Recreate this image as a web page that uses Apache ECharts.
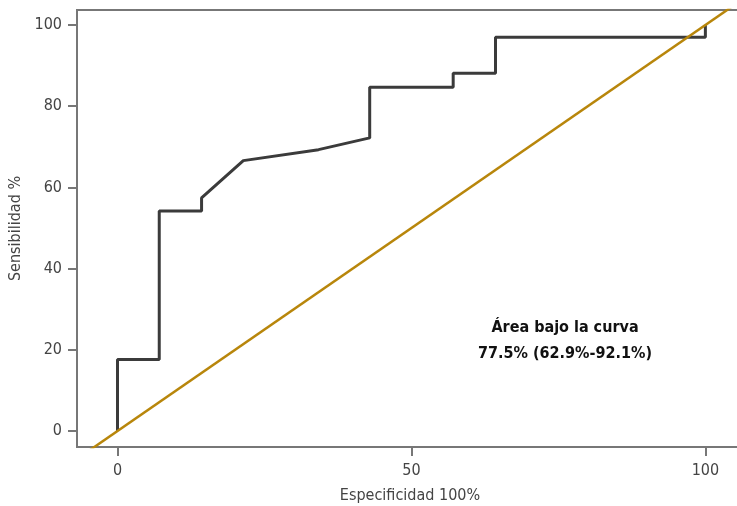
<!DOCTYPE html>
<html><head><meta charset="utf-8">
<script src="https://cdn.jsdelivr.net/npm/echarts@6/dist/echarts.min.js"></script>
<style>html,body{margin:0;padding:0;background:#fff}#c{width:737px;height:506px}</style>
</head><body><div id="c"></div>
<script>
const especificidad = [0, 0, 7.1, 7.1, 14.3, 14.3, 21.4, 34.2, 42.9, 42.9, 57.1, 57.1, 64.3, 64.3, 100, 100];
const sensibilidad  = [0, 17.6, 17.6, 54.2, 54.2, 57.4, 66.6, 69.3, 72.2, 84.7, 84.7, 88.1, 88.1, 97.0, 97.0, 100];
const referenciaX = [-10, 110];
const referenciaY = [-10, 110];
const xTicks = [0, 50, 100];
const yTicks = [0, 20, 40, 60, 80, 100];
const textoArea = ['Área bajo la curva', '77.5% (62.9%-92.1%)'];

const font = '"Liberation Sans Narrow", "DejaVu Sans Condensed", "Roboto", sans-serif';
const rocData = especificidad.map((x, i) => [x, sensibilidad[i]]);
const refData = referenciaX.map((x, i) => [x, referenciaY[i]]);

const chart = echarts.init(document.getElementById('c'), null, {renderer: 'canvas'});
chart.setOption({
  animation: false,
  grid: {left: 77, top: 10, right: -6, bottom: 59, show: true, borderColor: '#777', borderWidth: 2, backgroundColor: 'transparent', outerBoundsMode: 'none', containLabel: false},
  xAxis: {
    type: 'value', min: -6.89, max: 106.4,
    name: 'Especificidad 100%', nameLocation: 'middle', nameGap: 41,
    nameTextStyle: {fontFamily: font, fontSize: 16, color: '#444'},
    axisLine: {show: true, onZero: false, lineStyle: {color: '#777', width: 2}},
    axisTick: {show: true, inside: false, length: 9, lineStyle: {color: '#777', width: 2}, customValues: xTicks},
    axisLabel: {fontFamily: font, fontSize: 16, color: '#444', margin: 16, customValues: xTicks},
    splitLine: {show: false}
  },
  yAxis: {
    type: 'value', min: -3.94, max: 103.7,
    name: 'Sensibilidad %', nameLocation: 'middle', nameGap: 51,
    nameTextStyle: {fontFamily: font, fontSize: 16, color: '#444'},
    axisLine: {show: true, onZero: false, lineStyle: {color: '#777', width: 2}},
    axisTick: {show: true, inside: false, length: 9, lineStyle: {color: '#777', width: 2}, customValues: yTicks},
    axisLabel: {fontFamily: font, fontSize: 16, color: '#444', margin: 15, customValues: yTicks},
    splitLine: {show: false}
  },
  series: [
    {type: 'line', data: rocData, symbol: 'none', clip: true,
     lineStyle: {color: '#3b3b3b', width: 3}},
    {type: 'line', data: refData, symbol: 'none', clip: true,
     lineStyle: {color: '#b8860b', width: 2.5}}
  ],
  graphic: [
    {type: 'text', x: 565, y: 341, z: 10,
     style: {text: textoArea.join('\n'), fontFamily: font, fontSize: 16, fontWeight: 'bold', fill: '#111', align: 'center', verticalAlign: 'middle', lineHeight: 26}}
  ]
});
</script></body></html>
